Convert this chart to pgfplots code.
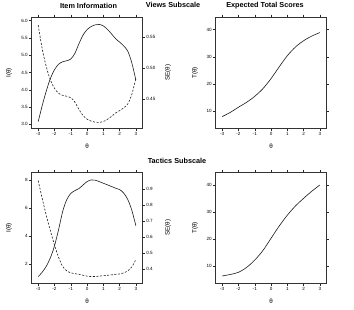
\documentclass[border=0pt]{standalone}
\usepackage{fontspec}
\setmainfont{Liberation Sans}
\usepackage{pgfplots}
\pgfplotsset{compat=1.18}

\pgfplotsset{
  panel/.style={
    scale only axis, width=110.7bp, height=111bp,
    anchor=north west,
    xmin=-3.4, xmax=3.4, xtick={-3,-2,...,3},
    tick align=outside, major tick length=2.8bp,
    tick style={black!85, line width=0.45bp},
    axis line style={black!80, line width=0.5bp},
    /pgf/number format/assume math mode=true,
    ticklabel style={font=\fontsize{4.6}{5}\selectfont, inner sep=1bp},
    label style={font=\fontsize{6.3}{7}\selectfont},
    xlabel={θ},
    xlabel style={at={(axis description cs:0.5,-0.16)}, anchor=center},
    xtick pos=both, xticklabel pos=left,
  },
  overlay/.style={
    scale only axis, width=110.7bp, height=111bp,
    anchor=north west,
    xmin=-3.4, xmax=3.4, xtick=\empty,
    tick align=outside, major tick length=2.8bp,
    tick style={black!85, line width=0.45bp},
    axis line style={draw=none},
    /pgf/number format/assume math mode=true,
    ticklabel style={font=\fontsize{4.6}{5}\selectfont, inner sep=1bp},
    label style={font=\fontsize{6.3}{7}\selectfont},
    ytick pos=right, yticklabel pos=right,
    ylabel={SE(θ)},
    ylabel style={at={(axis description cs:1.231,0.5)}, anchor=center, rotate=0},
  },
  info/.style={black!90, line width=0.6bp, smooth},
  se/.style={black!90, line width=0.6bp, smooth, dash pattern=on 2bp off 1.6bp},
  tcurve/.style={black!90, line width=0.6bp, smooth},
}

% Views subscale: information and standard error
\pgfplotstableread{
theta I SE
-3.00 3.08 0.5698
-2.75 3.55 0.5307
-2.50 3.97 0.5019
-2.25 4.33 0.4806
-2.00 4.58 0.4673
-1.75 4.74 0.4593
-1.50 4.81 0.4560
-1.25 4.84 0.4545
-1.00 4.89 0.4522
-0.75 5.05 0.4450
-0.50 5.33 0.4331
-0.25 5.58 0.4233
0.00 5.74 0.4174
0.25 5.83 0.4142
0.50 5.88 0.4124
0.75 5.89 0.4120
1.00 5.85 0.4134
1.25 5.75 0.4170
1.50 5.62 0.4218
1.75 5.48 0.4272
2.00 5.38 0.4311
2.25 5.27 0.4356
2.50 5.12 0.4419
2.75 4.78 0.4574
3.00 4.28 0.4834
}\viewsinfo

% Tactics subscale: information and standard error
\pgfplotstableread{
theta I SE
-3.00 1.10 0.9535
-2.75 1.42 0.8392
-2.50 1.85 0.7352
-2.25 2.45 0.6389
-2.00 3.30 0.5505
-1.75 4.45 0.4740
-1.50 5.75 0.4170
-1.25 6.60 0.3893
-1.00 7.05 0.3766
-0.75 7.25 0.3714
-0.50 7.40 0.3676
-0.25 7.65 0.3616
0.00 7.90 0.3558
0.25 8.02 0.3531
0.50 8.00 0.3536
0.75 7.90 0.3558
1.00 7.78 0.3585
1.25 7.67 0.3611
1.50 7.55 0.3639
1.75 7.43 0.3669
2.00 7.33 0.3694
2.25 7.08 0.3758
2.50 6.62 0.3887
2.75 5.85 0.4134
3.00 4.74 0.4593
}\tacticsinfo

% Expected total scores
\pgfplotstableread{
theta T
-3.0 8.05
-2.5 9.6
-2.0 11.5
-1.5 13.3
-1.0 15.5
-0.5 18.3
0.0 22.0
0.5 26.3
1.0 30.4
1.5 33.6
2.0 35.9
2.5 37.6
3.0 38.9
}\viewsscore

\pgfplotstableread{
theta T
-3.0 6.45
-2.5 7.0
-2.0 7.8
-1.5 9.6
-1.0 12.3
-0.5 15.8
0.0 20.3
0.5 24.8
1.0 28.8
1.5 32.2
2.0 35.0
2.5 37.6
3.0 39.9
}\tacticsscore

\begin{document}
\begin{tikzpicture}
\useasboundingbox (0,0) rectangle (354bp,-310bp);

% ---- Views subscale ----
\begin{axis}[panel, at={(31.7bp,-17.3bp)},
  ymin=2.884, ymax=6.098, ytick={3,3.5,...,6},
  yticklabel style={/pgf/number format/.cd, fixed, fixed zerofill, precision=1},
  ytick pos=left, ylabel={I(θ)},
  ylabel style={at={(axis description cs:-0.205,0.5)}, anchor=center}]
\addplot[info] table[x=theta, y=I] {\viewsinfo};
\end{axis}
\begin{axis}[overlay, at={(31.7bp,-17.3bp)},
  ymin=0.4025, ymax=0.5824, ytick={0.45,0.5,0.55},
  yticklabel style={/pgf/number format/.cd, fixed, fixed zerofill, precision=2}]
\addplot[se] table[x=theta, y=SE] {\viewsinfo};
\end{axis}

\begin{axis}[panel, at={(215.7bp,-17.3bp)},
  ymin=3.75, ymax=44.5, ytick={10,20,30,40},
  ytick pos=both, yticklabel pos=left, ylabel={T(θ)},
  ylabel style={at={(axis description cs:-0.186,0.5)}, anchor=center}]
\addplot[tcurve] table[x=theta, y=T] {\viewsscore};
\end{axis}

% ---- Tactics subscale ----
\begin{axis}[panel, at={(31.7bp,-172.5bp)}, height=110.8bp,
  ymin=0.62, ymax=8.55, ytick={2,4,6,8},
  ytick pos=left, ylabel={I(θ)},
  ylabel style={at={(axis description cs:-0.205,0.5)}, anchor=center}]
\addplot[info] table[x=theta, y=I] {\tacticsinfo};
\end{axis}
\begin{axis}[overlay, at={(31.7bp,-172.5bp)}, height=110.8bp,
  ymin=0.311, ymax=1.004, ytick={0.4,0.5,...,0.9},
  yticklabel style={/pgf/number format/.cd, fixed, fixed zerofill, precision=1}]
\addplot[se] table[x=theta, y=SE] {\tacticsinfo};
\end{axis}

\begin{axis}[panel, at={(215.7bp,-172.5bp)}, height=110.8bp,
  ymin=3.75, ymax=44.5, ytick={10,20,30,40},
  ytick pos=both, yticklabel pos=left, ylabel={T(θ)},
  ylabel style={at={(axis description cs:-0.186,0.5)}, anchor=center}]
\addplot[tcurve] table[x=theta, y=T] {\tacticsscore};
\end{axis}

% Titles
\begin{scope}[every node/.style={font=\bfseries\fontsize{7.3}{8}\selectfont, inner sep=0pt}]
\node at (88.5bp,-6bp) {Item Information};
\node at (173bp,-5bp) {Views Subscale};
\node at (265bp,-6bp) {Expected Total Scores};
\node at (177bp,-160.5bp) {Tactics Subscale};
\end{scope}
\end{tikzpicture}
\end{document}
